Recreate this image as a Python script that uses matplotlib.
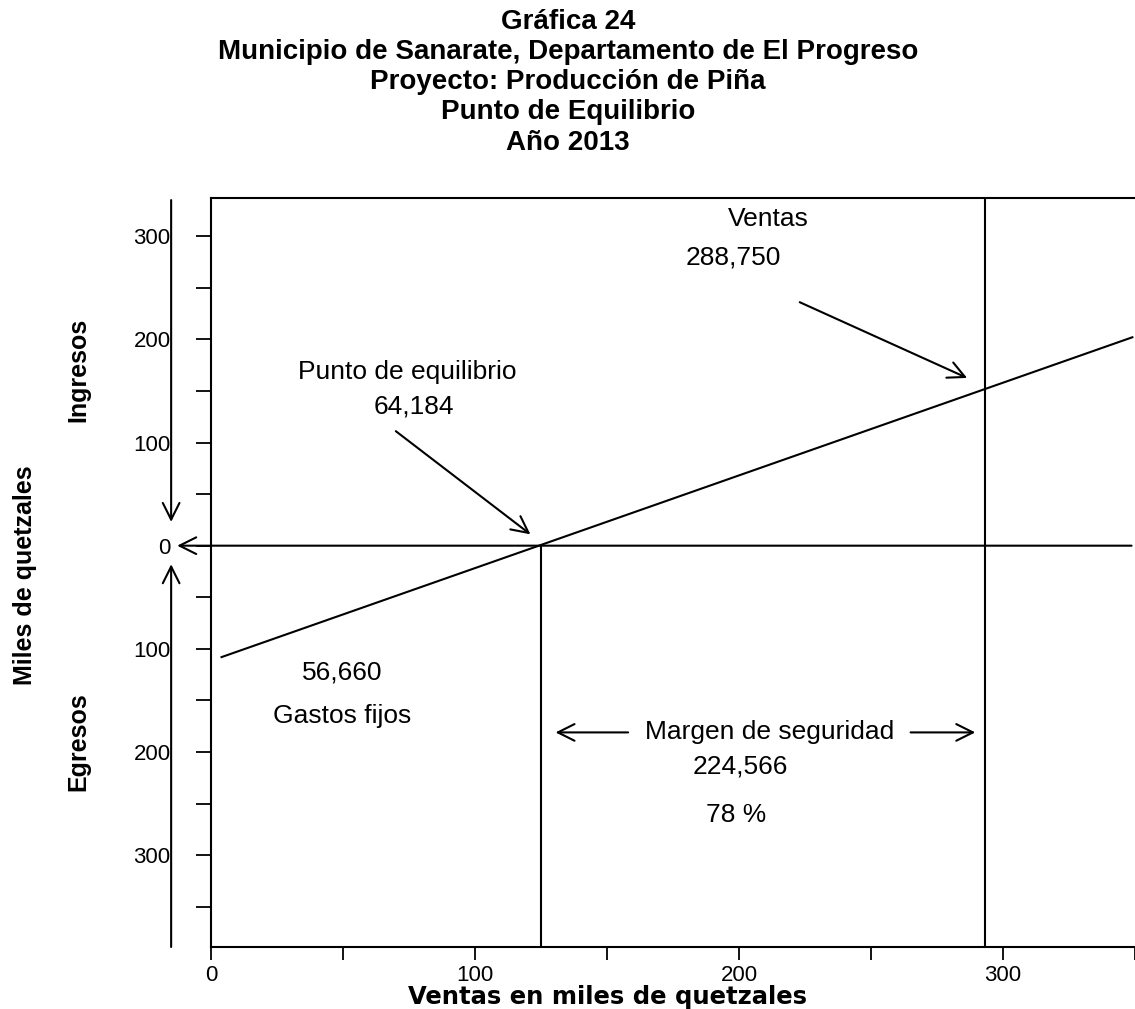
# Punto de equilibrio - Producción de piña, Sanarate 2013
import matplotlib
matplotlib.use('Agg')
import matplotlib.pyplot as plt

plt.rcParams['font.family'] = ['Liberation Sans', 'DejaVu Sans']

# data (in the chart's own scale)
linea_x = [4, 349]          # ventas en miles de quetzales
linea_y = [-108, 202]       # resultado (ingresos +, egresos -)
equilibrio_x = 125
ventas_x = 293

xticks_major = [0, 100, 200, 300]
xticks_minor = [50, 150, 250, 350]
yticks_major = [300, 200, 100, 0, -100, -200, -300]
ytick_labels = ['300', '200', '100', '0', '100', '200', '300']
yticks_minor = [250, 150, 50, -50, -150, -250, -350]

titulo = ['Gráfica 24',
          'Municipio de Sanarate, Departamento de El Progreso',
          'Proyecto: Producción de Piña',
          'Punto de Equilibrio',
          'Año 2013']

W, H = 1135, 1009
fig = plt.figure(figsize=(W / 100, H / 100), dpi=100)
ax = fig.add_axes([211 / W, (H - 947) / H, (W - 211) / W, (947 - 198) / H])
ax.set_xlim(0, 348.7)
ax.set_ylim(-389, 337)

lw = 1.5
for s in ['left', 'bottom', 'top']:
    ax.spines[s].set_linewidth(lw)
ax.spines['right'].set_visible(False)

ax.set_xticks(xticks_major)
ax.set_xticks(xticks_minor, minor=True)
ax.set_yticks(yticks_major)
ax.set_yticklabels(ytick_labels)
ax.set_yticks(yticks_minor, minor=True)
ax.tick_params(axis='x', which='both', direction='out', length=9, width=1.3,
               labelsize=16, pad=4)
ax.tick_params(axis='y', which='both', direction='out', length=11, width=1.3,
               labelsize=16, pad=18)

# main lines
ax.plot(linea_x, linea_y, color='black', lw=lw)
ax.plot([equilibrio_x, equilibrio_x], [0, -389], color='black', lw=lw)
ax.plot([ventas_x, ventas_x], [337, -389], color='black', lw=lw)

arrow = dict(arrowstyle='->, head_length=0.6, head_width=0.3', color='black',
             lw=lw, mutation_scale=20, shrinkA=0, shrinkB=0)

# zero line with arrow outside the axes
ax.annotate('', xy=(-12.8, 0), xytext=(348.7, 0), arrowprops=arrow,
            annotation_clip=False)
# ingresos / egresos arrows on the left
ax.annotate('', xy=(-15.1, 23), xytext=(-15.1, 335), arrowprops=arrow,
            annotation_clip=False)
ax.annotate('', xy=(-15.1, -18), xytext=(-15.1, -389), arrowprops=arrow,
            annotation_clip=False)

fs = 19
ax.text(74.3, 168, 'Punto de equilibrio', ha='center', va='center', fontsize=fs)
ax.text(77, 134.5, '64,184', ha='center', va='center', fontsize=fs)
ax.annotate('', xy=(121, 11), xytext=(70, 111), arrowprops=arrow)

ax.text(211, 317, 'Ventas', ha='center', va='center', fontsize=fs)
ax.text(198, 279, '288,750', ha='center', va='center', fontsize=fs)
ax.annotate('', xy=(286.4, 162.6), xytext=(223, 236), arrowprops=arrow)

ax.text(49.8, -123, '56,660', ha='center', va='center', fontsize=fs)
ax.text(49.8, -165.5, 'Gastos fijos', ha='center', va='center', fontsize=fs)

ax.text(211.7, -181, 'Margen de seguridad', ha='center', va='center', fontsize=fs)
ax.annotate('', xy=(130.5, -181), xytext=(158, -181), arrowprops=arrow)
ax.annotate('', xy=(289.5, -181), xytext=(265, -181), arrowprops=arrow)
ax.text(200.4, -214, '224,566', ha='center', va='center', fontsize=fs)
ax.text(199, -260.7, '78 %', ha='center', va='center', fontsize=fs)

ax.set_xlabel('Ventas en miles de quetzales', fontsize=17.5, fontweight='bold',
              family=['DejaVu Sans'])
ax.xaxis.set_label_coords((607 - 211) / (W - 211), -(985 - 947) / (947 - 198))

# left side labels
fig.text(25 / W, 1 - 575 / H, 'Miles de quetzales', rotation=90, ha='center',
         va='center', fontsize=18, fontweight='bold')
fig.text(78 / W, 1 - 370 / H, 'Ingresos', rotation=90, ha='center',
         va='center', fontsize=18, fontweight='bold')
fig.text(78 / W, 1 - 742 / H, 'Egresos', rotation=90, ha='center',
         va='center', fontsize=18, fontweight='bold')

# title lines
for linea, yc in zip(titulo, [22, 52, 82, 112, 143]):
    fig.text(568 / W, 1 - yc / H, linea, ha='center', va='center',
             fontsize=20, fontweight='bold')

fig.savefig('out.png', dpi=100)
